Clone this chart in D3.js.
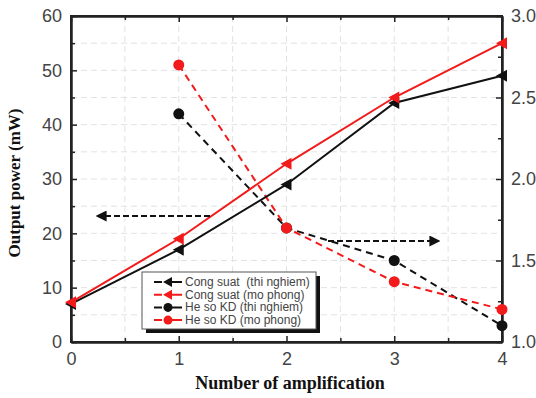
<!DOCTYPE html>
<html><head><meta charset="utf-8">
<script src="https://cdn.jsdelivr.net/npm/d3@7"></script>
<style>body{margin:0;background:#fff}</style>
</head><body>
<script>
const xValues = [0, 1, 2, 3, 4];
const powerExp = [7, 17, 29, 44, 49];
const powerSim = [7.3, 19, 32.8, 45, 55];
const kdX = [1, 2, 3, 4];
const kdExp = [2.4, 1.7, 1.5, 1.1];
const kdSim = [2.7, 1.7, 1.37, 1.2];
const xTicks = [0, 1, 2, 3, 4];
const yLeftTicks = [0, 10, 20, 30, 40, 50, 60];
const yRightTicks = [1.0, 1.5, 2.0, 2.5, 3.0];
const legendLabels = ["Cong suat\u00a0 (thi nghiem)", "Cong suat (mo phong)", "He so KD (thi nghiem)", "He so KD (mo phong)"];

const W = 536, H = 398;
const L = 71, R = 502, T = 16, B = 342;
const svg = d3.select("body").append("svg").attr("width", W).attr("height", H);
const x = d3.scaleLinear().domain([0, 4]).range([L, R]);
const yL = d3.scaleLinear().domain([0, 60]).range([B, T]);
const yR = d3.scaleLinear().domain([1, 3]).range([B, T]);

// grid
const g = svg.append("g");
d3.range(0.5, 4, 0.5).forEach(v => g.append("line").attr("x1", x(v)).attr("x2", x(v)).attr("y1", T).attr("y2", B)
  .attr("stroke", "#e2e2e2").attr("stroke-dasharray", "6,4").attr("stroke-width", 1));
d3.range(5, 60, 5).forEach(v => g.append("line").attr("y1", yL(v)).attr("y2", yL(v)).attr("x1", L).attr("x2", R)
  .attr("stroke", "#e2e2e2").attr("stroke-dasharray", "6,4").attr("stroke-width", 1));

// axes
const tickFont = "Arial, 'Liberation Sans', sans-serif";
svg.append("g").attr("transform", `translate(0,${B})`)
  .call(d3.axisBottom(x).tickValues(xTicks).tickFormat(d3.format("d")).tickSizeInner(-6).tickSizeOuter(0).tickPadding(10));
svg.append("g").attr("transform", `translate(0,${T})`)
  .call(d3.axisTop(x).tickValues(xTicks).tickFormat("").tickSizeInner(-6).tickSizeOuter(0));
svg.append("g").attr("transform", `translate(${L},0)`)
  .call(d3.axisLeft(yL).tickValues(yLeftTicks).tickFormat(d3.format("d")).tickSizeInner(-6).tickSizeOuter(0).tickPadding(9));
svg.append("g").attr("transform", `translate(${R},0)`)
  .call(d3.axisRight(yR).tickValues(yRightTicks).tickFormat(d3.format(".1f")).tickSizeInner(-6).tickSizeOuter(0).tickPadding(9));
// minor ticks
svg.append("g").attr("transform", `translate(0,${B})`).call(d3.axisBottom(x).tickValues(d3.range(0.5, 4, 1)).tickFormat("").tickSizeInner(-4).tickSizeOuter(0));
svg.append("g").attr("transform", `translate(0,${T})`).call(d3.axisTop(x).tickValues(d3.range(0.5, 4, 1)).tickFormat("").tickSizeInner(-4).tickSizeOuter(0));
svg.append("g").attr("transform", `translate(${L},0)`).call(d3.axisLeft(yL).tickValues(d3.range(5, 60, 10)).tickFormat("").tickSizeInner(-4).tickSizeOuter(0));
svg.append("g").attr("transform", `translate(${R},0)`).call(d3.axisRight(yR).tickValues(d3.range(1.25, 3, 0.5)).tickFormat("").tickSizeInner(-4).tickSizeOuter(0));
svg.selectAll(".domain").attr("stroke", "#222").attr("stroke-width", 2);
svg.selectAll(".tick line").attr("stroke", "#222").attr("stroke-width", 1.5);
svg.selectAll(".tick text").attr("font-family", tickFont).attr("font-size", 18).attr("fill", "#444");
// frame
svg.append("rect").attr("x", L).attr("y", T).attr("width", R - L).attr("height", B - T)
  .attr("fill", "none").attr("stroke", "#222").attr("stroke-width", 2);

// axis titles
svg.append("text").attr("transform", `translate(20,${(T + B) / 2 + 4}) rotate(-90)`)
  .attr("text-anchor", "middle").attr("font-family", "'Liberation Serif', 'Times New Roman', serif")
  .attr("font-weight", "bold").attr("font-size", 17).attr("fill", "#111").text("Output power (mW)");
svg.append("text").attr("x", 290).attr("y", 389).attr("text-anchor", "middle")
  .attr("font-family", "'Liberation Serif', 'Times New Roman', serif")
  .attr("font-weight", "bold").attr("font-size", 18).attr("fill", "#111").text("Number of amplification");

// lines
const lineL = d3.line().x((d, i) => x(xValues[i])).y(d => yL(d));
const lineR = d3.line().x((d, i) => x(kdX[i])).y(d => yR(d));
svg.append("path").datum(kdExp).attr("d", lineR).attr("fill", "none").attr("stroke", "#111").attr("stroke-width", 2).attr("stroke-dasharray", "7,5");
svg.append("path").datum(kdSim).attr("d", lineR).attr("fill", "none").attr("stroke", "#f21a1a").attr("stroke-width", 2).attr("stroke-dasharray", "7,5");
svg.append("path").datum(powerExp).attr("d", lineL).attr("fill", "none").attr("stroke", "#111").attr("stroke-width", 2);
svg.append("path").datum(powerSim).attr("d", lineL).attr("fill", "none").attr("stroke", "#f21a1a").attr("stroke-width", 2);

const tri = "M-6,0L5,-6L5,6Z";
svg.selectAll(".te").data(powerExp).enter().append("path").attr("d", tri)
  .attr("transform", (d, i) => `translate(${x(xValues[i])},${yL(d)})`).attr("fill", "#111");
svg.selectAll(".ts").data(powerSim).enter().append("path").attr("d", tri)
  .attr("transform", (d, i) => `translate(${x(xValues[i])},${yL(d)})`).attr("fill", "#f21a1a");
svg.selectAll(".ce").data(kdExp).enter().append("circle").attr("cx", (d, i) => x(kdX[i])).attr("cy", d => yR(d)).attr("r", 5.5).attr("fill", "#111");
svg.selectAll(".cs").data(kdSim).enter().append("circle").attr("cx", (d, i) => x(kdX[i])).attr("cy", d => yR(d)).attr("r", 5.5).attr("fill", "#f21a1a");

// arrows
const defs = svg.append("defs");
defs.append("marker").attr("id", "ah").attr("viewBox", "0 0 10 10").attr("refX", 6).attr("refY", 5)
  .attr("markerWidth", 5).attr("markerHeight", 5).attr("orient", "auto")
  .append("path").attr("d", "M0,0L10,5L0,10Z").attr("fill", "#111");
svg.append("line").attr("x1", 210).attr("x2", 100).attr("y1", 216).attr("y2", 216)
  .attr("stroke", "#111").attr("stroke-width", 2.2).attr("stroke-dasharray", "6,3").attr("marker-end", "url(#ah)");
svg.append("line").attr("x1", 328).attr("x2", 436).attr("y1", 241).attr("y2", 241)
  .attr("stroke", "#111").attr("stroke-width", 2.2).attr("stroke-dasharray", "6,3").attr("marker-end", "url(#ah)");

// legend
const lx = 142, ly = 272, lw = 174, lh = 57;
svg.append("rect").attr("x", lx + 4).attr("y", ly + 4).attr("width", lw).attr("height", lh).attr("fill", "#111");
svg.append("rect").attr("x", lx).attr("y", ly).attr("width", lw).attr("height", lh).attr("fill", "#fff").attr("stroke", "#555").attr("stroke-width", 1);
const legColors = ["#111", "#f21a1a", "#111", "#f21a1a"];
legendLabels.forEach((lab, i) => {
  const yy = ly + 10 + i * 12.7;
  svg.append("line").attr("x1", lx + 12).attr("x2", lx + 40).attr("y1", yy).attr("y2", yy)
    .attr("stroke", legColors[i]).attr("stroke-width", 2).attr("stroke-dasharray", "8,3,17");
  if (i < 2) svg.append("path").attr("d", "M-5,0L4,-5L4,5Z").attr("transform", `translate(${lx + 26},${yy})`).attr("fill", legColors[i]);
  else svg.append("circle").attr("cx", lx + 26).attr("cy", yy).attr("r", 4.5).attr("fill", legColors[i]);
  svg.append("text").attr("x", lx + 43).attr("y", yy + 4).attr("font-family", tickFont).attr("font-size", 12)
    .attr("fill", "#444").text(lab);
});
</script>
</body></html>
